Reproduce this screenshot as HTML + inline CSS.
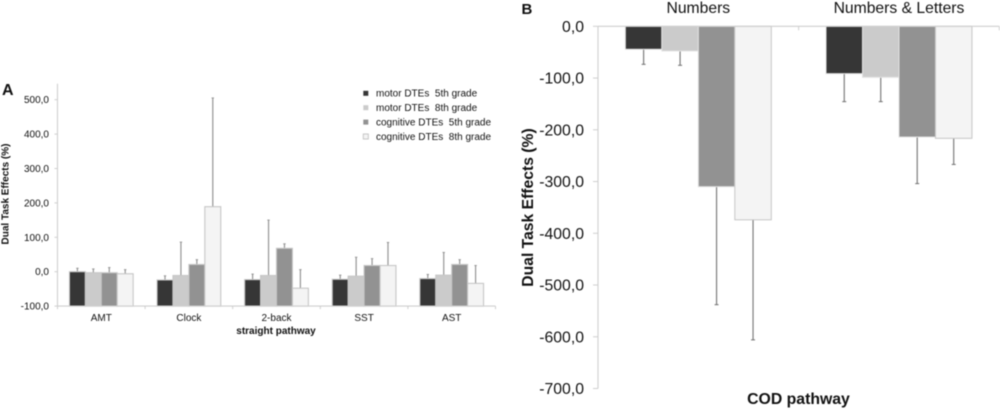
<!DOCTYPE html>
<html lang="en">
<head>
<meta charset="utf-8">
<title>Dual Task Effects</title>
<style>
html,body{margin:0;padding:0;background:#fff;width:1000px;height:409px;overflow:hidden}
svg{display:block;filter:blur(0.4px)}
text{font-family:"Liberation Sans",Arial,sans-serif;fill:#111}
</style>
</head>
<body>
<svg id="fig" xmlns="http://www.w3.org/2000/svg" width="1000" height="409" viewBox="0 0 1000 409">
  <text x="2" y="95" font-size="16" font-weight="bold" fill="#000">A</text>
  <text x="521.5" y="14" font-size="15" font-weight="bold" fill="#000">B</text>
  <text transform="translate(8.5,194) rotate(-90)" text-anchor="middle" font-size="10" font-weight="bold">Dual Task Effects (%)</text>
  <text x="276" y="334" text-anchor="middle" font-size="10" font-weight="bold">straight pathway</text>
  <text transform="translate(533,207.5) rotate(-90)" text-anchor="middle" font-size="15.7" font-weight="bold">Dual Task Effects (%)</text>
  <text x="798.5" y="404" text-anchor="middle" font-size="15.8" font-weight="bold">COD pathway</text>
</svg>
<script>
// Shared series
const seriesNames = ['motor DTEs  5th grade', 'motor DTEs  8th grade', 'cognitive DTEs  5th grade', 'cognitive DTEs  8th grade'];
const seriesFill = ['#363636', '#cbcbcb', '#929292', '#f4f4f4'];

// Panel A data
const categoriesA = ['AMT', 'Clock', '2-back', 'SST', 'AST'];
const yTicksA = [500, 400, 300, 200, 100, 0, -100];
const motor5A = [0, -24, -23, -22, -20];
const motor8A = [-3, -11, -11, -13, -10];
const cog5A = [-3, 21, 68, 18, 21];
const cog8A = [-6, 189, -48, 18, -34];
const motor5TopA = [10, -12, -7, -10, -8];
const motor8TopA = [8, 86, 150, 42, 56];
const cog5TopA = [12, 35, 81, 38, 35];
const cog8TopA = [6, 505, 6, 85, 18];

// Panel B data
const categoriesB = ['Numbers', 'Numbers & Letters'];
const yTicksB = [0, -100, -200, -300, -400, -500, -600, -700];
const motor5B = [-44.4, -91.5];
const motor8B = [-47.7, -98.6];
const cog5B = [-310, -214];
const cog8B = [-374, -216.5];
const motor5EndB = [-73.5, -145.6];
const motor8EndB = [-75.4, -145.6];
const cog5EndB = [-538, -304];
const cog8EndB = [-606, -267];

const NS = 'http://www.w3.org/2000/svg';
const svg = document.getElementById('fig');

function make(tag, attrs, content) {
  const node = document.createElementNS(NS, tag);
  for (const k in attrs) node.setAttribute(k, attrs[k]);
  if (content !== undefined) node.textContent = content;
  svg.appendChild(node);
  return node;
}
function fmt(v) { return v.toFixed(1).replace('.', ','); }

function linear(d0, d1, r0, r1) {
  return function (v) { return r0 + (v - d0) * (r1 - r0) / (d1 - d0); };
}

// Panel A axes
const yA = linear(0, 500, 271.7, 99.7);
const xLeftA = 57.5, xRightA = 495.5;
const bandA = (xRightA - xLeftA) / categoriesA.length;
const barWA = bandA / 5.5;
const xA = function (c, s) { return xLeftA + bandA * c + barWA * 0.75 + barWA * s; };

// Panel B axes
const yB = linear(0, -700, 26.3, 388.5);
const xLeftB = 598, xRightB = 999.3;
const bandB = (xRightB - xLeftB) / categoriesB.length;
const barWB = bandB / 5.5;
const xB = function (c, s) { return xLeftB + bandB * c + barWB * 0.75 + barWB * s; };

const axisColor = '#cfcfcf';

// ---- Panel A marks ----
const valuesA = [motor5A, motor8A, cog5A, cog8A];
const topsA = [motor5TopA, motor8TopA, cog5TopA, cog8TopA];
categoriesA.forEach(function (cat, c) {
  valuesA.forEach(function (vals, s) {
    const cx = xA(c, s) + barWA / 2;
    const top = yA(vals[c]);
    const errLine = make('line', { x1: cx, x2: cx, y1: top, y2: yA(topsA[s][c]), stroke: '#959595', 'stroke-width': 1.2 });
    
    
    const errCap = make('line', { x1: cx - 1.2, x2: cx + 1.2, y1: yA(topsA[s][c]), y2: yA(topsA[s][c]), stroke: '#959595', 'stroke-width': 1 });
    
    
    const bar = make('rect', { x: xA(c, s), y: top, width: barWA, height: yA(-100) - top, fill: seriesFill[s], stroke: '#c6c6c6', 'stroke-width': 1.1 });
    
    
  });
  const label = make('text', { x: xLeftA + bandA * (c + 0.5), y: 321, 'text-anchor': 'middle', 'font-size': 10 }, cat);
  
  
});

// Panel A axes drawing
const axisAY = make('line', { x1: xLeftA, x2: xLeftA, y1: yA(500) - 16, y2: yA(-100), stroke: axisColor, 'stroke-width': 1.1 });


const axisAX = make('line', { x1: xLeftA, x2: xRightA, y1: yA(-100), y2: yA(-100), stroke: axisColor, 'stroke-width': 1.1 });


yTicksA.forEach(function (t) {
  const tick = make('line', { x1: xLeftA - 3, x2: xLeftA, y1: yA(t), y2: yA(t), stroke: axisColor, 'stroke-width': 1 });
  
  
  const label = make('text', { x: 49, y: yA(t) + 3.5, 'text-anchor': 'end', 'font-size': 10 }, fmt(t));
  
  
});
for (let i = 0; i <= categoriesA.length; i++) {
  const tick = make('line', { x1: xLeftA + bandA * i, x2: xLeftA + bandA * i, y1: yA(-100), y2: yA(-100) + 3, stroke: axisColor, 'stroke-width': 1 });
  
  
}

// Legend
seriesNames.forEach(function (name, s) {
  const cy = 93.3 + s * 14.4;
  const swatch = make('rect', { x: 363.3, y: cy - 2.5, width: 5, height: 5, fill: seriesFill[s], stroke: s === 3 ? '#c6c6c6' : 'none', 'stroke-width': 1 });
  
  
  const label = make('text', { x: 376, y: cy + 3.4, 'font-size': 10, 'xml:space': 'preserve', style: 'white-space:pre' }, name);
  
  
});

// ---- Panel B marks ----
const valuesB = [motor5B, motor8B, cog5B, cog8B];
const endsB = [motor5EndB, motor8EndB, cog5EndB, cog8EndB];
categoriesB.forEach(function (cat, c) {
  valuesB.forEach(function (vals, s) {
    const cx = xB(c, s) + barWB / 2;
    const end = yB(vals[c]);
    const errLine = make('line', { x1: cx, x2: cx, y1: end, y2: yB(endsB[s][c]), stroke: '#7d7d7d', 'stroke-width': 1.2 });
    
    
    const errCap = make('line', { x1: cx - 2, x2: cx + 2, y1: yB(endsB[s][c]), y2: yB(endsB[s][c]), stroke: '#707070', 'stroke-width': 1 });
    
    
    const bar = make('rect', { x: xB(c, s), y: yB(0), width: barWB, height: end - yB(0), fill: seriesFill[s], stroke: s === 3 ? '#c6c6c6' : '#e2e2e2', 'stroke-width': 1 });
    
    
  });
  const label = make('text', { x: xLeftB + bandB * (c + 0.5), y: 12.8, 'text-anchor': 'middle', 'font-size': 15.7 }, cat);
  
  
});

// Panel B axes drawing
const axisBY = make('line', { x1: xLeftB, x2: xLeftB, y1: yB(0), y2: yB(-700), stroke: axisColor, 'stroke-width': 1.1 });


const axisBX = make('line', { x1: xLeftB, x2: xRightB, y1: yB(0), y2: yB(0), stroke: axisColor, 'stroke-width': 1.1 });


yTicksB.forEach(function (t) {
  const tick = make('line', { x1: xLeftB - 5, x2: xLeftB, y1: yB(t), y2: yB(t), stroke: axisColor, 'stroke-width': 1 });
  
  
  const label = make('text', { x: 584, y: yB(t) + 5.6, 'text-anchor': 'end', 'font-size': 15.8 }, fmt(t));
  
  
});
for (let i = 1; i <= categoriesB.length; i++) {
  const tick = make('line', { x1: xLeftB + bandB * i, x2: xLeftB + bandB * i, y1: yB(0), y2: yB(0) + 4, stroke: axisColor, 'stroke-width': 1 });
  
  
}
</script>
</body>
</html>
